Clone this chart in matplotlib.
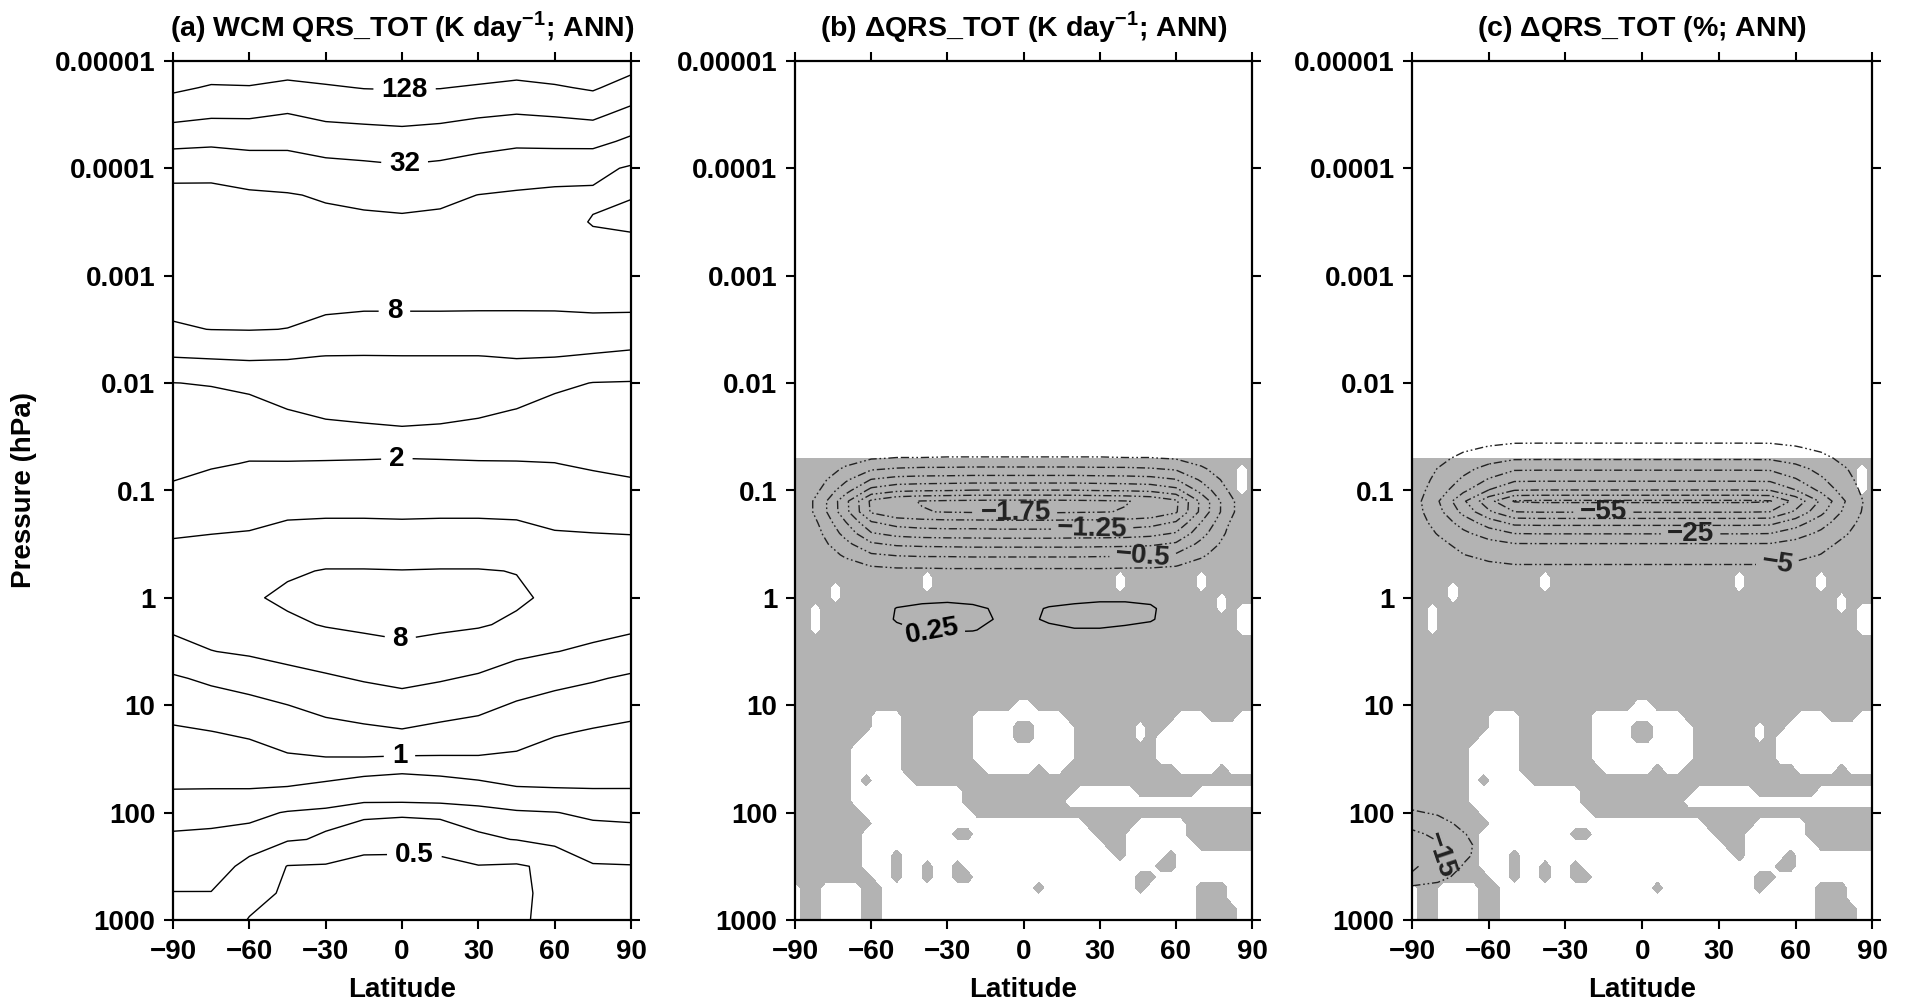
import re
import numpy as np
import matplotlib
matplotlib.use('Agg')
import matplotlib.pyplot as plt

plt.rcParams['font.family'] = ['Liberation Sans', 'DejaVu Sans']
plt.rcParams['font.weight'] = 'bold'
plt.rcParams['mathtext.fontset'] = 'custom'
plt.rcParams['mathtext.rm'] = 'Liberation Sans:bold'
plt.rcParams['mathtext.bf'] = 'Liberation Sans:bold'
plt.rcParams['axes.unicode_minus'] = True

# ---------------------------------------------------------------
# (a) WCM annual mean QRS_TOT, stored as log2 of K/day
# columns: latitude, rows: log10(pressure / hPa)
lat_a = [-90, -75, -60, -45, -30, -15, 0, 15, 30, 45, 60, 75, 90]
logp_a = [-5.0, -4.75, -4.5, -4.25, -4.0, -3.75, -3.5, -3.25, -3.0, -2.75,
          -2.5, -2.25, -2.0, -1.75, -1.5, -1.25, -1.0, -0.75, -0.5, -0.25,
          0.0, 0.25, 0.5, 0.75, 1.0, 1.25, 1.5, 1.75, 2.0, 2.25, 2.5, 2.75, 3.0]
qrs_log2 = [
    [8.07, 7.69, 7.74, 7.58, 7.63, 7.79, 7.79, 7.81, 7.71, 7.56, 7.73, 8.04, 7.45],
    [7.18, 6.91, 6.94, 6.77, 6.91, 7.03, 7.06, 7.03, 6.90, 6.78, 6.90, 7.11, 6.59],
    [6.29, 6.13, 6.13, 5.97, 6.20, 6.27, 6.32, 6.25, 6.10, 5.99, 6.07, 6.19, 5.71],
    [5.32, 5.22, 5.30, 5.24, 5.44, 5.52, 5.60, 5.50, 5.31, 5.19, 5.26, 5.29, 4.81],
    [4.19, 4.17, 4.41, 4.53, 4.72, 4.80, 4.90, 4.80, 4.62, 4.42, 4.29, 4.23, 3.90],
    [3.85, 3.86, 3.90, 3.95, 4.08, 4.20, 4.28, 4.18, 3.99, 3.91, 3.87, 3.87, 3.97],
    [3.68, 3.69, 3.73, 3.76, 3.81, 3.84, 3.87, 3.83, 3.78, 3.71, 3.68, 4.05, 4.15],
    [3.51, 3.52, 3.55, 3.57, 3.59, 3.61, 3.63, 3.60, 3.56, 3.52, 3.49, 3.75, 3.76],
    [3.33, 3.35, 3.38, 3.38, 3.38, 3.37, 3.38, 3.37, 3.34, 3.32, 3.31, 3.47, 3.47],
    [3.16, 3.18, 3.20, 3.19, 3.16, 3.14, 3.14, 3.14, 3.13, 3.12, 3.12, 3.18, 3.18],
    [2.93, 3.01, 3.03, 2.99, 2.81, 2.71, 2.71, 2.71, 2.71, 2.73, 2.74, 2.72, 2.69],
    [2.04, 2.11, 2.16, 2.07, 1.99, 1.98, 1.99, 1.99, 1.99, 2.05, 2.03, 1.92, 1.79],
    [0.99, 1.04, 1.19, 1.52, 1.58, 1.61, 1.63, 1.61, 1.58, 1.51, 1.17, 0.98, 0.95],
    [0.76, 0.73, 0.74, 0.99, 1.17, 1.23, 1.27, 1.24, 1.15, 0.98, 0.74, 0.72, 0.72],
    [0.57, 0.64, 0.70, 0.57, 0.68, 0.76, 0.83, 0.78, 0.67, 0.61, 0.68, 0.64, 0.61],
    [0.81, 0.92, 1.03, 1.04, 1.04, 1.04, 1.04, 1.04, 1.04, 1.04, 1.01, 0.90, 0.84],
    [1.10, 1.31, 1.42, 1.49, 1.51, 1.51, 1.50, 1.51, 1.51, 1.49, 1.41, 1.28, 1.15],
    [1.61, 1.74, 1.81, 1.95, 1.98, 1.98, 1.96, 1.98, 1.98, 1.95, 1.82, 1.75, 1.70],
    [2.10, 2.15, 2.19, 2.42, 2.51, 2.51, 2.50, 2.51, 2.51, 2.46, 2.19, 2.18, 2.16],
    [2.53, 2.51, 2.54, 2.90, 3.04, 3.04, 3.02, 3.04, 3.04, 2.98, 2.52, 2.55, 2.53],
    [2.65, 2.73, 2.90, 3.15, 3.30, 3.30, 3.31, 3.30, 3.30, 3.12, 2.85, 2.68, 2.59],
    [2.22, 2.36, 2.51, 2.85, 3.05, 3.14, 3.21, 3.14, 3.07, 2.87, 2.43, 2.30, 2.20],
    [1.63, 1.98, 2.12, 2.30, 2.50, 2.70, 2.83, 2.70, 2.53, 2.21, 2.02, 1.85, 1.61],
    [0.89, 1.17, 1.43, 1.69, 1.88, 2.08, 2.24, 2.08, 1.88, 1.54, 1.29, 1.09, 0.86],
    [0.36, 0.56, 0.72, 0.99, 1.29, 1.46, 1.61, 1.44, 1.25, 0.90, 0.66, 0.48, 0.28],
    [-0.13, -0.02, 0.14, 0.46, 0.65, 0.80, 0.92, 0.74, 0.61, 0.40, 0.09, -0.08, -0.19],
    [-0.52, -0.45, -0.39, -0.13, -0.05, -0.06, -0.12, -0.11, -0.09, -0.16, -0.42, -0.49, -0.55],
    [-0.91, -0.91, -0.90, -0.97, -1.18, -1.50, -1.71, -1.50, -1.24, -0.97, -0.92, -0.90, -0.91],
    [-1.61, -1.71, -1.80, -2.05, -2.16, -2.30, -2.18, -2.27, -2.25, -2.09, -2.02, -1.86, -1.79],
    [-2.17, -2.20, -2.31, -2.07, -1.93, -1.15, -1.15, -1.20, -1.90, -2.02, -2.27, -2.35, -2.35],
    [-2.31, -2.30, -1.82, -0.97, -0.92, -0.89, -0.88, -0.88, -0.96, -0.90, -1.20, -1.96, -1.98],
    [-1.98, -1.98, -1.33, -0.86, -0.76, -0.72, -0.72, -0.72, -0.78, -0.85, -1.20, -1.78, -1.82],
    [-1.70, -1.70, -0.95, -0.75, -0.60, -0.55, -0.55, -0.55, -0.60, -0.80, -1.35, -1.60, -1.65],
]

# ---------------------------------------------------------------
# (b) change of QRS_TOT (K/day) and (c) change in percent
lat_d = [-90, -80, -70, -60, -50, -40, -30, -20, -10, 0, 10, 20, 30, 40, 50, 60, 70, 80, 90]
logp_b = [-1.6, -1.5, -1.4, -1.3, -1.2, -1.1, -1.0, -0.9, -0.8, -0.7, -0.6,
          -0.5, -0.4, -0.3, -0.2, -0.1, 0.0, 0.1, 0.2, 0.3, 0.4, 0.5]
dqrs_abs = [
    [0] * 19,
    [0, -0.01, -0.02, -0.03, -0.03, -0.03, -0.03, -0.03, -0.03, -0.03, -0.03, -0.03, -0.03, -0.03, -0.03, -0.03, -0.02, -0.01, 0],
    [0, -0.02, -0.05, -0.09, -0.10, -0.10, -0.10, -0.10, -0.10, -0.10, -0.10, -0.10, -0.10, -0.10, -0.10, -0.09, -0.05, -0.02, 0],
    [0, -0.05, -0.14, -0.23, -0.26, -0.26, -0.27, -0.27, -0.27, -0.27, -0.27, -0.27, -0.27, -0.26, -0.26, -0.23, -0.14, -0.05, 0],
    [0, -0.11, -0.29, -0.47, -0.52, -0.54, -0.54, -0.55, -0.55, -0.55, -0.55, -0.55, -0.54, -0.54, -0.52, -0.47, -0.29, -0.11, 0],
    [0, -0.18, -0.46, -0.76, -0.84, -0.86, -0.87, -0.88, -0.88, -0.88, -0.88, -0.88, -0.87, -0.86, -0.84, -0.76, -0.46, -0.18, 0],
    [0, -0.26, -0.66, -1.08, -1.20, -1.23, -1.24, -1.26, -1.26, -1.26, -1.26, -1.26, -1.24, -1.23, -1.20, -1.08, -0.66, -0.26, 0],
    [0, -0.36, -0.94, -1.55, -1.71, -1.76, -1.78, -1.79, -1.80, -1.80, -1.80, -1.79, -1.78, -1.76, -1.71, -1.55, -0.94, -0.36, 0],
    [0, -0.36, -0.93, -1.53, -1.69, -1.74, -1.76, -1.77, -1.78, -1.78, -1.78, -1.77, -1.76, -1.74, -1.69, -1.53, -0.93, -0.36, 0],
    [0, -0.28, -0.74, -1.22, -1.35, -1.39, -1.41, -1.41, -1.42, -1.42, -1.42, -1.41, -1.41, -1.39, -1.35, -1.22, -0.74, -0.28, 0],
    [0, -0.23, -0.59, -0.98, -1.08, -1.12, -1.13, -1.13, -1.14, -1.14, -1.14, -1.13, -1.13, -1.12, -1.08, -0.98, -0.59, -0.23, 0],
    [0, -0.17, -0.43, -0.71, -0.79, -0.81, -0.82, -0.83, -0.83, -0.83, -0.83, -0.83, -0.82, -0.81, -0.79, -0.71, -0.43, -0.17, 0],
    [0, -0.11, -0.29, -0.47, -0.52, -0.54, -0.54, -0.55, -0.55, -0.55, -0.55, -0.55, -0.54, -0.54, -0.52, -0.47, -0.29, -0.11, 0],
    [0, -0.06, -0.16, -0.26, -0.29, -0.29, -0.30, -0.30, -0.30, -0.30, -0.30, -0.30, -0.30, -0.29, -0.29, -0.26, -0.16, -0.06, 0],
    [0, -0.02, -0.06, -0.10, -0.11, -0.12, -0.12, -0.12, -0.12, -0.12, -0.12, -0.12, -0.12, -0.12, -0.11, -0.10, -0.06, -0.02, 0],
    [0, 0, 0, 0, 0, 0.02, 0.03, 0.03, 0.02, 0.02, 0.03, 0.04, 0.04, 0.04, 0.03, 0.02, 0, 0, 0],
    [0, 0, 0.02, 0.08, 0.15, 0.20, 0.22, 0.20, 0.12, 0.08, 0.15, 0.20, 0.22, 0.22, 0.20, 0.10, 0.03, 0, 0],
    [0, 0.02, 0.05, 0.10, 0.26, 0.29, 0.29, 0.28, 0.23, 0.18, 0.27, 0.29, 0.30, 0.30, 0.28, 0.15, 0.05, 0.02, 0],
    [0, 0.02, 0.05, 0.12, 0.27, 0.30, 0.30, 0.29, 0.24, 0.20, 0.28, 0.30, 0.30, 0.29, 0.27, 0.15, 0.05, 0.02, 0],
    [0, 0.02, 0.04, 0.10, 0.20, 0.26, 0.27, 0.26, 0.20, 0.16, 0.20, 0.24, 0.24, 0.22, 0.18, 0.10, 0.04, 0.02, 0],
    [0, 0.01, 0.02, 0.06, 0.12, 0.15, 0.15, 0.15, 0.12, 0.10, 0.12, 0.14, 0.14, 0.12, 0.10, 0.06, 0.02, 0.01, 0],
    [0, 0, 0.01, 0.03, 0.05, 0.06, 0.06, 0.06, 0.05, 0.04, 0.05, 0.06, 0.06, 0.05, 0.04, 0.03, 0.01, 0, 0],
]

logp_c = [-1.6, -1.5, -1.4, -1.3, -1.2, -1.1, -1.0, -0.9, -0.8, -0.7, -0.6,
          -0.5, -0.4, -0.3, -0.2, -0.1, 0.0,
          1.8, 1.9, 2.0, 2.1, 2.2, 2.3, 2.4, 2.5, 2.6, 2.7, 2.8, 3.0]
dqrs_pct = [
    [0] * 19,
    [0, -0.4, -1.0, -1.6, -2.0, -2.0, -2.0, -2.0, -2.0, -2.0, -2.0, -2.0, -2.0, -2.0, -2.0, -1.6, -1.0, -0.4, 0],
    [0, -1.5, -3.5, -5.5, -6.9, -7.0, -7.0, -7.0, -7.0, -7.0, -7.0, -7.0, -7.0, -7.0, -6.9, -5.5, -3.5, -1.5, 0],
    [0, -2.9, -6.9, -10.7, -13.6, -13.7, -13.7, -13.7, -13.7, -13.7, -13.7, -13.7, -13.7, -13.7, -13.6, -10.7, -6.9, -2.9, 0],
    [0, -5.2, -12.0, -18.6, -23.7, -23.9, -23.9, -23.9, -23.9, -23.9, -23.9, -23.9, -23.9, -23.9, -23.7, -18.6, -12.0, -5.2, 0],
    [0, -7.0, -16.6, -25.9, -32.9, -33.2, -33.2, -33.2, -33.2, -33.2, -33.2, -33.2, -33.2, -33.2, -32.9, -25.9, -16.6, -7.0, 0],
    [0, -9.6, -22.8, -35.5, -45.1, -45.5, -45.5, -45.5, -45.5, -45.5, -45.5, -45.5, -45.5, -45.5, -45.1, -35.5, -22.8, -9.6, 0],
    [0, -14.0, -33.3, -51.9, -65.8, -66.5, -66.5, -66.5, -66.5, -66.5, -66.5, -66.5, -66.5, -66.5, -65.8, -51.9, -33.3, -14.0, 0],
    [0, -11.7, -27.8, -43.3, -54.9, -55.5, -55.5, -55.5, -55.5, -55.5, -55.5, -55.5, -55.5, -55.5, -54.9, -43.3, -27.8, -11.7, 0],
    [0, -8.0, -19.2, -29.9, -37.9, -38.3, -38.3, -38.3, -38.3, -38.3, -38.3, -38.3, -38.3, -38.3, -37.9, -29.9, -19.2, -8.0, 0],
    [0, -5.4, -12.8, -19.9, -25.2, -25.5, -25.5, -25.5, -25.5, -25.5, -25.5, -25.5, -25.5, -25.5, -25.2, -19.9, -12.8, -5.4, 0],
    [0, -3.0, -7.3, -11.3, -14.4, -14.5, -14.5, -14.5, -14.5, -14.5, -14.5, -14.5, -14.5, -14.5, -14.4, -11.3, -7.3, -3.0, 0],
    [0, -2.0, -4.8, -7.4, -9.4, -9.5, -9.5, -9.5, -9.5, -9.5, -9.5, -9.5, -9.5, -9.5, -9.4, -7.4, -4.8, -2.0, 0],
    [0, -0.9, -2.3, -3.5, -4.5, -4.5, -4.5, -4.5, -4.5, -4.5, -4.5, -4.5, -4.5, -4.5, -4.5, -3.5, -2.3, -0.9, 0],
    [0, -0.3, -0.8, -1.2, -1.5, -1.5, -1.5, -1.5, -1.5, -1.5, -1.5, -1.5, -1.5, -1.5, -1.5, -1.2, -0.8, -0.3, 0],
    [0] * 19,
    [0] * 19,
    [0] * 19,
    [-2, -1] + [0] * 17,
    [-6, -4, -1] + [0] * 16,
    [-12, -8, -3] + [0] * 16,
    [-17, -13, -5.5, -1] + [0] * 15,
    [-20, -16, -7, -1.5] + [0] * 15,
    [-19, -16, -6.5, -1.5] + [0] * 15,
    [-16, -12, -4.5, -1] + [0] * 15,
    [-14, -8, -2] + [0] * 16,
    [-3, -2] + [0] * 17,
    [0] * 19,
    [0] * 19,
]

# significance (shaded where '#'), run-length coded per model level,
# 4-degree latitude grid from -90 to 90, levels from 10^-1.3 hPa down
sig_lat = list(range(-90, 91, 4))
sig_logp = [round(-1.3 + 0.1 * k, 1) for k in range(44)]
sig_rows = [
    "46#", "44#1.1#", "44#1.1#", "44#1.1#",
    "46#", "46#", "46#", "46#", "46#", "46#", "46#",
    "13#1.18#1.7#1.5#",
    "4#1.8#1.18#1.7#1.5#",
    "4#1.37#1.3#",
    "2#1.39#1.1#2.",
    "2#1.41#2.",
    "2#1.41#2.",
    "46#", "46#", "46#", "46#", "46#", "46#",
    "22#2.22#",
    "8#3.7#9.11#3.3#2.",
    "8#3.7#4.2#4.6#1.2#9.",
    "7#4.7#4.2#4.6#1.1#10.",
    "6#5.7#10.8#10.",
    "6#5.7#10.8#10.",
    "6#5.8#5.1#2.11#4.1#3.",
    "6#1.1#4.34#",
    "6#11.11#6.6#6.",
    "6#11.10#19.",
    "7#11.28#",
    "8#21.5#5.7#",
    "7#9.2#12.3#6.7#",
    "7#24.2#7.6#",
    "7#3.1#21.1#4.1#8.",
    "7#3.1#2.1#2.1#19.2#8.",
    "8#2.1#2.1#2.2#16.2#10.",
    "1.2#4.2#15.1#9.1#5.3#3.",
    "1.2#4.2#31.3#3.",
    "1.2#4.2#31.4#2.",
    "1.2#4.2#31.4#2.",
]


def decode(row):
    out = []
    for n, c in re.findall(r'(\d+)([#.])', row):
        out += [1.0 if c == '#' else 0.0] * int(n)
    return out


sig_mask = np.array([decode(r) for r in sig_rows])

lat_ticks = [-90, -60, -30, 0, 30, 60, 90]
lat_ticklabels = ['\u221290', '\u221260', '\u221230', '0', '30', '60', '90']
p_ticks = [-5, -4, -3, -2, -1, 0, 1, 2, 3]
p_ticklabels = ['0.00001', '0.0001', '0.001', '0.01', '0.1', '1', '10', '100', '1000']

titles = [r'(a) WCM QRS_TOT (K day$^{\mathbf{-1}}$; ANN)',
          r'(b) $\mathbf{\Delta}$QRS_TOT (K day$^{\mathbf{-1}}$; ANN)',
          r'(c) $\mathbf{\Delta}$QRS_TOT (%; ANN)']

# where the contour labels sit (lat, log10 p)
label_at_a = [(1, -4.73), (1, -4.04), (-3, -2.6), (-2, -1.27), (-1, 0.43), (-1, 1.48), (5, 2.32)]
label_at_b = [(-3, -0.81), (27, -0.62), (47, -0.38)]
label_at_b_pos = [(-36, 0.29)]
label_at_c = [(-15, -0.82), (19, -0.57), (53, -0.32), (-79, 2.39)]

shade = '#b3b3b3'
neg_style = (0, (6, 2, 1.2, 2, 1.2, 2))


def minus_fmt(v):
    return f'{v:g}'.replace('-', '\u2212')


def style_axes(ax, title):
    ax.set_xlim(-90, 90)
    ax.set_ylim(3, -5)
    ax.set_xticks(lat_ticks)
    ax.set_xticklabels(lat_ticklabels)
    ax.set_yticks(p_ticks)
    ax.set_yticklabels(p_ticklabels)
    ax.tick_params(direction='out', length=6.7, width=1.5, top=True, right=True,
                   labelsize=20)
    ax.tick_params(axis='x', pad=7)
    ax.tick_params(axis='y', pad=6)
    for s in ax.spines.values():
        s.set_linewidth(1.6)
    ax.text(0.5, 1.029, title, transform=ax.transAxes, ha='center', va='baseline', fontsize=20.5)
    ax.text(0.5, -0.0896, 'Latitude', transform=ax.transAxes, ha='center', va='baseline', fontsize=20)


fig = plt.figure(figsize=(19.112, 10.052), dpi=100)
W, H = 1911, 1005
ax_a = fig.add_axes([173 / W, 1 - 920 / H, 458 / W, 859 / H])
ax_b = fig.add_axes([795 / W, 1 - 920 / H, 457 / W, 859 / H])
ax_c = fig.add_axes([1412 / W, 1 - 920 / H, 460 / W, 859 / H])

# (a)
cs = ax_a.contour(lat_a, logp_a, qrs_log2, levels=np.arange(-2, 8), colors='k',
                  linewidths=1.0, linestyles='solid')
txt = ax_a.clabel(cs, fmt=lambda v: f'{2.0 ** v:g}', manual=label_at_a, inline=True,
                  inline_spacing=8, fontsize=20)
for t in txt:
    t.set_rotation(0)
style_axes(ax_a, titles[0])

# (b)
ax_b.contourf(sig_lat, sig_logp, sig_mask, levels=[0.5, 1.5], colors=[shade])
neg_b = ax_b.contour(lat_d, logp_b, dqrs_abs, levels=np.arange(-2.0, 0, 0.25),
                     colors='#222222', linewidths=1.0, linestyles=[neg_style])
pos_b = ax_b.contour(lat_d, logp_b, dqrs_abs, levels=[0.25, 0.5],
                     colors='k', linewidths=1.0, linestyles='solid')
ax_b.clabel(neg_b, fmt=minus_fmt, manual=label_at_b, inline=True, inline_spacing=6, fontsize=20)
ax_b.clabel(pos_b, fmt=minus_fmt, manual=label_at_b_pos, inline=True, inline_spacing=6, fontsize=20)
style_axes(ax_b, titles[1])

# (c)
ax_c.contourf(sig_lat, sig_logp, sig_mask, levels=[0.5, 1.5], colors=[shade])
neg_c = ax_c.contour(lat_d, logp_c, dqrs_pct, levels=np.arange(-65, 0, 10),
                     colors='#222222', linewidths=1.0, linestyles=[neg_style])
ax_c.clabel(neg_c, fmt=minus_fmt, manual=label_at_c, inline=True, inline_spacing=6, fontsize=20)
style_axes(ax_c, titles[2])

fig.text(24 / W, 1 - 490 / H, 'Pressure (hPa)', rotation=90, ha='center', va='center',
         fontsize=20)

fig.savefig('out.png', dpi=100)
